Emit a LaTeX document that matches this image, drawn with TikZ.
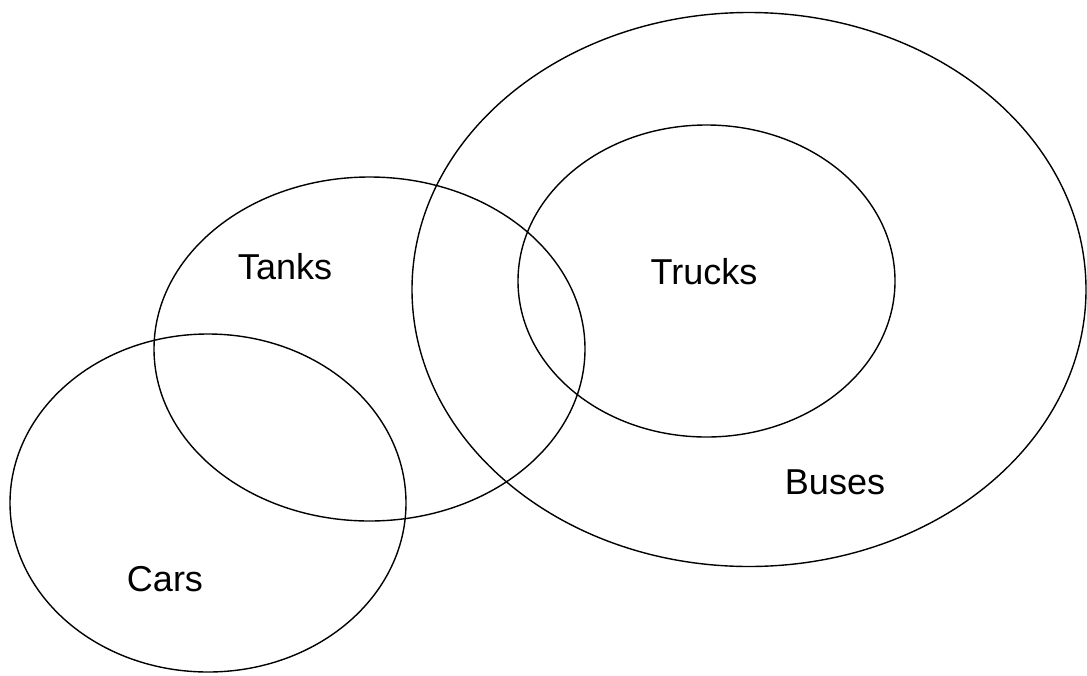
\documentclass[tikz,border=0pt]{standalone}
\usepackage{fontspec}
\setmainfont{Liberation Sans}
\usepackage{tikz}
\usepackage{xcolor}

\begin{document}
\begin{tikzpicture}[x=1pt, y=-1pt, line width=1.4pt,
    setlabel/.style={inner sep=0pt, font=\fontsize{36}{42}\selectfont}]
    \useasboundingbox (0,0) rectangle (1087,675);

    % Set centres
    \coordinate (cars) at (208,503);
    \coordinate (tanks) at (369.5,349);
    \coordinate (buses) at (749,289.5);
    \coordinate (trucks) at (706.5,281);

    % Sets
    \draw (cars) ellipse [x radius=198, y radius=169];
    \draw (tanks) ellipse [x radius=215.5, y radius=172];
    \draw (buses) ellipse [x radius=337, y radius=277];
    \draw (trucks) ellipse [x radius=188.5, y radius=156];

    % Labels
    \node[setlabel] (tankslabel) at (285,267) {Tanks};
    \node[setlabel] (truckslabel) at (704,272) {Trucks};
    \node[setlabel] (buseslabel) at (835,482) {Buses};
    \node[setlabel] (carslabel) at (165,579) {Cars};
\end{tikzpicture}
\end{document}
